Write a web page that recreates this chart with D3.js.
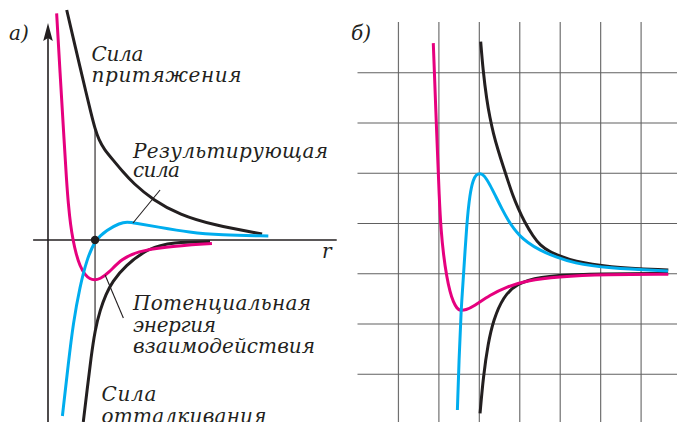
<!DOCTYPE html>
<html>
<head>
<meta charset="utf-8">
<script src="https://cdn.jsdelivr.net/npm/d3@7"></script>
<style>
  body { margin: 0; background: #fff; }
</style>
</head>
<body>
<div id="chart"></div>
<script>
// ---- panel a): curves, [r, value]
const attractA = [[0.78, 11.5], [1.04, 10.15], [1.33, 8.67], [1.58, 7.4], [1.79, 6.35], [1.96, 5.55],
  [2.125, 5.0], [2.33, 4.55], [2.71, 4.0], [3.125, 3.4], [3.54, 2.85], [4.375, 2.0], [5.5, 1.25],
  [6.875, 0.75], [8.92, 0.3]];
const repulseA = [[1.47, -9.1], [1.63, -7.5], [1.79, -5.9], [1.96, -4.5], [2.17, -3.5], [2.42, -2.7],
  [2.67, -2.1], [3.21, -1.3], [4.17, -0.4], [5.21, -0.1], [6.75, -0.08]];
const resultA = [[0.6, -8.8], [0.85, -6.15], [1.05, -4.15], [1.33, -2.33], [1.61, -1.0], [1.96, 0],
  [2.45, 0.5], [3.0, 0.85], [3.29, 0.9], [3.63, 0.85], [4.53, 0.66], [5.92, 0.37], [7.17, 0.25], [9.18, 0.2]];
const energyA = [[0.36, 11.33], [0.52, 8.0], [0.67, 5.0], [0.77, 3.0], [0.85, 1.75], [0.94, 0.75],
  [1.04, 0], [1.17, -0.7], [1.33, -1.3], [1.54, -1.75], [1.75, -1.95], [1.92, -2.0], [2.17, -1.95],
  [2.5, -1.675], [3.08, -0.925], [3.75, -0.575], [4.75, -0.35], [6.83, -0.175]];
const equilR = 1.96;           // equilibrium distance (dot)
const equilTop = 5.6, equilBottom = -4.45;

// ---- panel б): curves, [x, value]
const attractB = [[3.046, 4.61], [3.103, 4.045], [3.195, 3.448], [3.276, 3.09], [3.358, 2.785],
  [3.474, 2.453], [3.605, 2.12], [3.721, 1.836], [3.845, 1.537], [3.968, 1.299], [4.117, 1.04],
  [4.347, 0.727], [4.513, 0.562], [4.76, 0.423], [5.007, 0.343], [5.329, 0.24], [6.169, 0.12],
  [7.685, 0.065]];
const repulseB = [[3.03, -2.79], [3.11, -2.06], [3.23, -1.39], [3.36, -0.93], [3.6, -0.47],
  [3.94, -0.2], [4.51, -0.07], [5.34, -0.015], [7.68, -0.005]];
const resultB = [[2.47, -2.72], [2.51, -1.73], [2.56, -0.73], [2.62, -0.07], [2.7, 0.99], [2.78, 1.59],
  [2.86, 1.86], [2.93, 1.96], [3.03, 1.995], [3.13, 1.955], [3.28, 1.756], [3.425, 1.517], [3.573, 1.279],
  [3.721, 1.06], [3.869, 0.881], [4.018, 0.741], [4.191, 0.622], [4.512, 0.453], [4.908, 0.323],
  [5.328, 0.204], [6.169, 0.099], [7.677, 0.045]];
const energyB = [[1.874, 4.58], [1.958, 2.785], [2.023, 1.458], [2.065, 0.861], [2.126, 0.363],
  [2.206, -0.069], [2.287, -0.373], [2.369, -0.572], [2.46, -0.701], [2.534, -0.745], [2.683, -0.731],
  [2.863, -0.666], [3.276, -0.433], [3.689, -0.268], [4.184, -0.148], [4.925, -0.069], [6.162, -0.025],
  [7.685, -0.02]];
const gridXB = [1, 2, 3, 4, 5, 6, 7];
const gridYB = [-2, -1, 0, 1, 2, 3, 4];

const MAGENTA = "#e6007e", CYAN = "#00adee", BLACK = "#231f20";
const FONT = "'DejaVu Serif', 'Liberation Serif', serif";

const svg = d3.select("#chart").append("svg")
  .attr("width", 677).attr("height", 422);
svg.append("rect").attr("width", 677).attr("height", 422).attr("fill", "#fff");

// scales
const xA = d3.scaleLinear().domain([0, 12]).range([48, 336]);
const yA = d3.scaleLinear().domain([-9.1, 12]).range([422, 0]);
const xB = d3.scaleLinear().domain([0, 7.9]).range([357.5, 677]);
const yB = d3.scaleLinear().domain([-3, 5]).range([424, 22]);

const lineA = d3.line().x(d => xA(d[0])).y(d => yA(d[1])).curve(d3.curveBasis);
const lineB = d3.line().x(d => xB(d[0])).y(d => yB(d[1])).curve(d3.curveBasis);

// ---------- panel б) grid
const gx = svg.append("g")
  .attr("transform", "translate(0," + yB(-3) + ")")
  .call(d3.axisBottom(xB).tickValues(gridXB).tickSize(-(yB(-3) - yB(5))).tickFormat(""));
const gy = svg.append("g")
  .attr("transform", "translate(" + xB(0) + ",0)")
  .call(d3.axisLeft(yB).tickValues(gridYB).tickSize(-(xB(7.9) - xB(0))).tickFormat(""));
gx.select(".domain").remove();
gy.select(".domain").remove();
gx.selectAll("line").attr("stroke", "#707070").attr("stroke-width", 1.2);
gy.selectAll("line").attr("stroke", "#606060").attr("stroke-width", 1.2);

// panel б) curves
[[attractB, BLACK], [repulseB, BLACK], [energyB, MAGENTA], [resultB, CYAN]].forEach(function(s) {
  svg.append("path").attr("d", lineB(s[0]))
    .attr("fill", "none").attr("stroke", s[1]).attr("stroke-width", 3);
});

// ---------- panel a) axes
svg.append("line")
  .attr("x1", xA(-0.62)).attr("x2", xA(12.03))
  .attr("y1", yA(0)).attr("y2", yA(0))
  .attr("stroke", BLACK).attr("stroke-width", 1.6);
svg.append("line")
  .attr("x1", xA(0)).attr("x2", xA(0))
  .attr("y1", yA(-9.1)).attr("y2", yA(10.2))
  .attr("stroke", BLACK).attr("stroke-width", 1.6);
// arrow head
svg.append("path")
  .attr("d", "M" + xA(0) + "," + yA(10.85) + "L" + (xA(0) - 4.8) + "," + (yA(10.85) + 18) +
        "L" + xA(0) + "," + (yA(10.85) + 15) + "L" + (xA(0) + 4.8) + "," + (yA(10.85) + 18) + "Z")
  .attr("fill", BLACK);

// thin line at equilibrium distance
svg.append("line")
  .attr("x1", xA(equilR)).attr("x2", xA(equilR))
  .attr("y1", yA(equilTop)).attr("y2", yA(equilBottom))
  .attr("stroke", BLACK).attr("stroke-width", 1.1);

// panel a) curves
[[attractA, BLACK], [repulseA, BLACK], [energyA, MAGENTA], [resultA, CYAN]].forEach(function(s) {
  svg.append("path").attr("d", lineA(s[0]))
    .attr("fill", "none").attr("stroke", s[1]).attr("stroke-width", 3);
});

svg.append("circle").attr("cx", xA(equilR)).attr("cy", yA(0)).attr("r", 4.2).attr("fill", BLACK);

// leader lines
const leaders = [
  [[4.67, 2.5], [3.54, 0.85]],
  [[2.38, -1.75], [3.14, -3.9]]
];
leaders.forEach(function(l) {
  svg.append("line")
    .attr("x1", xA(l[0][0])).attr("y1", yA(l[0][1]))
    .attr("x2", xA(l[1][0])).attr("y2", yA(l[1][1]))
    .attr("stroke", BLACK).attr("stroke-width", 1.1);
});

// ---------- labels
const labels = [
  { t: "а)", x: 9, y: 40 },
  { t: "б)", x: 351, y: 40 },
  { t: "Сила", x: 91.5, y: 60.5, w: 52 },
  { t: "притяжения", x: 91.5, y: 81.5, w: 150 },
  { t: "Результирующая", x: 133, y: 158, w: 195 },
  { t: "сила", x: 133, y: 177, w: 47 },
  { t: "Потенциальная", x: 133, y: 310, w: 178 },
  { t: "энергия", x: 133, y: 331.5, w: 83 },
  { t: "взаимодействия", x: 133, y: 353, w: 182 },
  { t: "Сила", x: 101.5, y: 401, w: 55 },
  { t: "отталкивания", x: 101.5, y: 423, w: 165 },
  { t: "r", x: 322, y: 258 }
];
const lbl = svg.selectAll("text.lbl")
  .data(labels)
  .enter().append("text")
  .attr("class", "lbl")
  .attr("x", d => d.x)
  .attr("y", d => d.y)
  .attr("font-family", FONT)
  .attr("font-style", "italic")
  .attr("font-size", 20)
  .attr("fill", BLACK)
  .text(d => d.t);
lbl.filter(d => d.w)
  .attr("textLength", d => d.w)
  .attr("lengthAdjust", "spacing");
</script>
</body>
</html>
